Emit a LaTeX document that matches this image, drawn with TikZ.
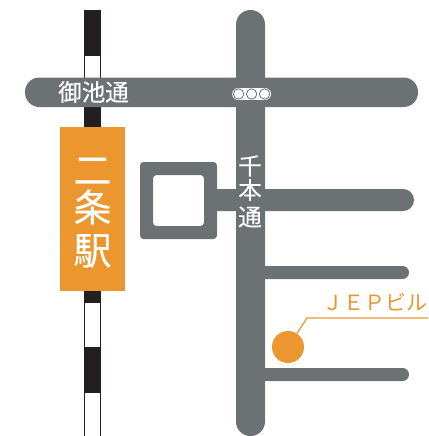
\documentclass[tikz,border=0pt]{standalone}
\usepackage{fontspec}
\newfontfamily\cjk{Noto Sans CJK JP}
\newfontfamily\cjkb[FakeBold=0.3]{Noto Sans CJK JP}
\definecolor{roadgrey}{HTML}{6C7274}
\definecolor{stationorange}{HTML}{EC9630}
\definecolor{railblack}{HTML}{231F20}
\tikzset{
  road/.style={draw=none,fill=roadgrey},
  railblack seg/.style={draw=none,fill=railblack},
  railwhite seg/.style={draw=railblack,line width=1pt,fill=white},
  roadtext/.style={text=white,font=\cjkb\fontsize{23.5}{24}\selectfont,inner sep=0pt},
  stationtext/.style={text=white,font=\cjkb\fontsize{38}{38}\selectfont,inner sep=0pt},
  signal/.style={circle,draw=roadgrey,line width=0.8pt,fill=white,minimum size=10.4pt,inner sep=0pt},
  signalpill/.style={fill=white,rounded corners=5.9pt},
  leader/.style={draw=stationorange,line width=1.2pt},
}
\begin{document}
\begin{tikzpicture}[x=1pt,y=-1pt]
\useasboundingbox (0,0) rectangle (428,436);
% railway
\fill[railblack seg] (84,10) rectangle (101,56);
\draw[railwhite seg] (84.2,56) rectangle (100.8,82);
\fill[railblack seg] (84,100) rectangle (101,130);
\fill[railblack seg] (84,288) rectangle (101,303);
\draw[railwhite seg] (84.2,302.5) rectangle (100.8,347);
\fill[railblack seg] (84,347) rectangle (101,392);
\begin{scope}
\clip (0,0) rectangle (428,436);
\draw[railwhite seg] (84.2,392) rectangle (100.8,440);
\end{scope}
% roads
\fill[road,rounded corners=14.4pt] (236,10) rectangle (265,436);
\fill[road,rounded corners=14.4pt] (25,77.5) rectangle (418,107);
\fill[road,rounded corners=10.9pt] (205,189) rectangle (414,211);
\fill[road,rounded corners=6.4pt] (255,266) rectangle (409,279);
\fill[road,rounded corners=6.4pt] (255,368) rectangle (409,381);
\fill[road,rounded corners=3.5pt,even odd rule] (140,162) rectangle (217,239) (153,175) rectangle (204,226);
% signal
\fill[signalpill] (232.2,88.1) rectangle (271,99.9);
\node[signal] (sa) at (238.6,94) {};
\node[signal] (sb) at (251.6,94) {};
\node[signal] (sc) at (264.6,94) {};
% station
\node[draw=none,fill=stationorange,minimum width=65pt,minimum height=164pt,inner sep=0pt] (station) at (92.5,209) {};
\node[stationtext] (ni) at (92.5,171) {二};
\node[stationtext] (jo) at (92.5,207) {条};
\node[stationtext] (eki) at (92.5,251) {駅};
% labels
\node[roadtext] (oike) at (93.5,92) {御池通};
\node[roadtext] (s1) at (250,166) {千};
\node[roadtext] (s2) at (250,190) {本};
\node[roadtext] (s3) at (250,217) {通};
% building
\node[circle,fill=stationorange,minimum size=32pt,inner sep=0pt] (jep) at (288,347) {};
\coordinate (bend) at (307,318);
\coordinate (lend) at (428,318);
\draw[leader] (jep) -- (bend) -- (lend);
\node[anchor=west,text=stationorange,inner sep=0pt,font=\cjk\fontsize{21}{22}\selectfont] (jeplabel) at (322.5,302) {ＪＥＰビル};
\end{tikzpicture}
\end{document}
